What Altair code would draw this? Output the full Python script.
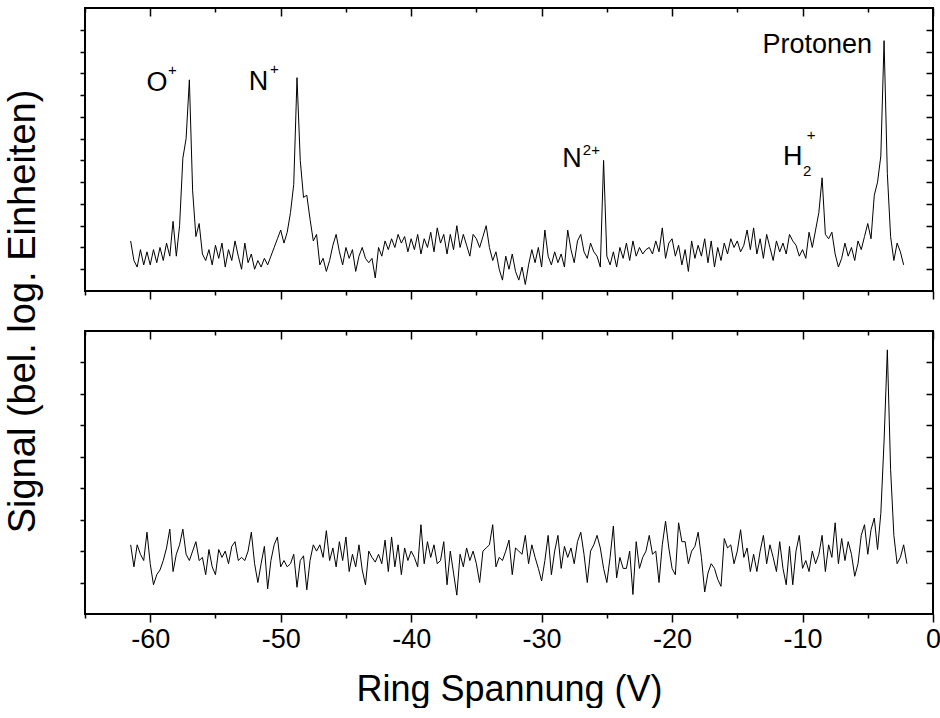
import altair as alt
import pandas as pd

FONT = "Liberation Sans"
V_START = -61.5
V_STEP = 0.25

# top panel signal (log units), sampled every 0.25 V from -61.5 V
top_signal = [
    2.3, 1.4, 1.1, 1.9, 1.2, 1.8, 1.2, 1.9, 1.3, 2.0, 1.4, 2.2, 1.6,
    3.2, 1.6, 3.0, 6.1, 7.0, 9.7, 4.6, 2.5, 3.1,
    1.7, 1.4, 1.9, 1.2, 2.1, 1.5, 2.2, 1.1, 1.9, 1.4, 2.3, 1.6, 1.0, 2.2, 1.3, 1.7,
    1.0, 1.4, 1.1, 1.5, 1.2, 1.6, 2.0, 2.4,
    2.8, 2.2, 2.7, 3.6, 4.9, 9.8, 6.0, 4.3, 4.4, 3.3, 2.3, 2.6, 1.2, 1.5, 0.9, 1.4,
    2.1, 2.6, 1.8, 1.2, 2.0, 1.5, 1.9, 0.9, 1.6, 2.0, 1.5,
    1.3, 1.5, 0.6, 2.0, 1.6, 2.3,
    1.9, 2.4, 2.0, 2.6, 2.2, 2.5, 1.8, 2.4, 1.9, 2.6, 1.7, 2.4, 2.0, 2.7, 1.8, 2.9,
    2.2, 2.6, 1.7, 2.6, 1.9, 3.0, 2.0, 2.6, 2.1, 1.6, 2.6, 2.4, 2.0, 2.5, 3.0, 2.0,
    1.4, 1.8, 1.0, 0.5, 1.6, 1.0, 1.7, 0.9, 0.5, 1.1, 0.3, 1.2,
    1.9, 1.3, 2.0, 1.1, 2.8, 1.6, 1.2, 1.8, 1.3, 1.7, 1.1,
    2.8, 1.9, 1.3, 2.3, 2.6, 1.8, 1.5, 2.2, 1.8, 1.6, 1.1,
    6.0, 1.6,
    1.2, 1.8, 1.1, 2.0, 1.5, 2.2, 1.4, 2.3, 1.6, 2.0, 1.7, 1.9,
    2.0, 1.7, 2.3, 1.8, 2.9, 1.5, 2.2, 2.4, 1.6, 2.1, 1.2, 1.9, 0.9, 2.3, 1.5, 2.1, 1.6,
    2.4, 1.3, 2.3, 1.1, 2.0, 1.4, 2.2, 1.7, 2.4, 2.0, 2.3, 1.8, 2.1, 2.8, 1.9, 2.9,
    1.7, 2.4, 1.5, 2.6, 2.0, 1.4, 2.3, 1.8, 2.2, 1.7, 2.6, 2.3, 2.1, 1.6, 1.9, 1.5,
    2.7, 2.0,
    2.8, 3.6, 5.2, 2.6, 2.4, 2.7, 1.7, 1.1,
    1.5, 2.2, 1.6, 2.0, 1.4, 2.3, 1.9, 2.5, 3.1, 2.4, 4.4, 5.0, 6.2, 11.5, 5.4, 2.5,
    1.4, 2.2, 1.8, 1.2,
]

# bottom panel signal (log units), sampled every 0.25 V from -61.5 V
bottom_signal = [
    2.2, 1.5, 2.2, 1.9, 1.7, 2.6, 1.6, 0.93, 1.25, 1.4,
    1.7, 2.1, 2.7, 1.35, 1.9, 2.2, 2.7, 1.9, 1.7, 2.0,
    2.3, 1.7, 1.8, 1.25, 2.05, 1.5, 1.25, 2.05, 1.8, 2.0,
    1.6, 2.15, 2.3, 1.7, 1.8, 1.7, 2.0, 2.6, 1.6, 1.0,
    1.6, 2.15, 0.8, 1.7, 2.2, 2.45, 1.5, 1.7, 1.5, 1.6,
    1.9, 0.85, 1.7, 1.85, 0.77, 1.7, 2.2, 2.0, 2.2, 1.8,
    2.65, 1.7, 2.1, 1.5, 2.3, 1.7, 2.45, 1.35, 1.9, 1.5,
    2.2, 1.4, 0.93, 2.0, 1.8, 1.65, 1.9, 1.6, 2.35, 1.35,
    2.45, 1.5, 2.2, 1.25, 2.1, 1.7, 2.0, 1.8, 1.5, 2.84,
    1.6, 2.3, 1.8, 2.2, 1.6, 1.7, 2.3, 0.93, 2.0, 1.3,
    0.6, 1.9, 1.5, 2.1, 1.7, 2.0, 1.6, 1.0, 2.0, 2.1,
    2.2, 2.84, 1.5, 1.8, 1.7, 2.0, 2.35, 1.25, 2.1, 2.0,
    1.9,
    2.5, 1.6, 2.2, 1.8, 1.45, 1.05, 1.7, 2.5, 1.25, 2.0,
    2.5, 1.45, 2.15, 1.8, 2.1, 1.6, 2.3, 2.6, 1.9, 1.0, 2.0,
    2.2, 2.5, 2.1, 1.45, 1.0, 1.8, 2.8, 1.15, 1.8, 1.45, 1.45,
    2.0, 0.62, 2.3, 1.45, 1.8, 2.0, 2.5, 1.9, 2.0, 1.0,
    2.2, 2.95, 2.1, 1.45, 1.25, 2.9, 2.3, 2.3, 1.6, 2.0, 2.15,
    2.6, 1.8, 0.7, 1.3, 1.6, 1.45, 1.1, 0.88, 2.4, 2.1, 2.2, 1.6,
    2.0, 2.68, 1.8, 2.1, 1.35, 1.9, 1.35, 2.0, 2.5, 1.6, 2.2,
    1.8, 1.35, 2.3, 1.45, 0.93, 2.15, 0.93, 2.0, 2.5, 1.45,
    1.7, 1.35, 2.0, 1.6, 1.9, 2.5, 1.35, 2.2, 1.8, 2.9, 1.6, 2.4,
    1.7, 2.3, 1.9, 1.2, 1.6, 2.5, 2.84, 1.9, 2.68, 3.05, 2.05,
    3.2, 5.5, 8.4, 4.6, 2.5, 1.6, 1.8, 2.2, 1.6,
]

x_major = [-60, -50, -40, -30, -20, -10, 0]
x_minor = [-65, -55, -45, -35, -25, -15, -5]
top_yticks = list(range(1, 13))
bottom_yticks = list(range(1, 9))

# peak labels (letter) and their super/subscripts
ann_main = ["O", "N", "N", "H", "Protonen"]
ann_main_v = [-59.48, -51.70, -27.68, -10.75, -8.87]
ann_main_s = [9.17, 9.22, 5.69, 5.78, 10.92]
ann_sup = ["+", "+", "2+", "+", "2"]
ann_sup_v = [-58.64, -50.82, -26.84, -9.67, -9.97]
ann_sup_s = [9.91, 9.95, 6.24, 6.93, 5.28]


def frame(signal):
    return pd.DataFrame({
        "V": [round(V_START + V_STEP * i, 2) for i in range(len(signal))],
        "S": signal,
    })


def ax(orient, values, size, offset=0, labels=False, **kw):
    return alt.Axis(orient=orient, values=values, tickSize=size, offset=offset,
                    labels=labels, domain=False, grid=False, ticks=True,
                    tickColor="black", tickWidth=1.5, **kw)


def panel(df, ydomain, yticks, bottom_labels, ytitle=False, xtitle=False, ann=False):
    xs = alt.Scale(domain=[-65, 0], nice=False, zero=False)
    ys = alt.Scale(domain=ydomain, nice=False, zero=False)
    base = alt.Chart(df)

    xb_kw = {}
    if bottom_labels:
        xb_kw.update(labelFont=FONT, labelFontSize=27, labelColor="black",
                     labelPadding=4, labelFlush=False,
                     labelExpr="'' + datum.value")
    if xtitle:
        xb_kw.update(title="Ring Spannung (V)", titleFont=FONT, titleFontSize=36,
                     titleFontWeight="normal", titleColor="black",
                     titleX=424, titleY=86, titleAlign="center",
                     titleBaseline="alphabetic")
    else:
        xb_kw.update(title=None)

    yl_kw = {}
    if ytitle:
        yl_kw.update(title="Signal (bel. log. Einheiten)", titleFont=FONT,
                     titleFontSize=38, titleFontWeight="normal", titleColor="black",
                     titleAngle=270, titleX=-62, titleY=303, titleAlign="center",
                     titleBaseline="middle")
    else:
        yl_kw.update(title=None)

    line = base.mark_line(color="black", strokeWidth=1).encode(
        x=alt.X("V:Q", scale=xs, axis=ax("bottom", x_major, 8, labels=bottom_labels, **xb_kw)),
        y=alt.Y("S:Q", scale=ys, axis=ax("left", yticks, 5, **yl_kw)),
    )
    g1 = base.mark_line(strokeOpacity=0).encode(
        x=alt.X("V:Q", scale=xs, axis=ax("bottom", x_minor, 4, title=None)),
        y=alt.Y("S:Q", scale=ys, axis=ax("right", yticks, 7, offset=-7, title=None)),
    )
    g2 = base.mark_line(strokeOpacity=0).encode(
        x=alt.X("V:Q", scale=xs, axis=ax("top", x_major, 8, offset=-8, title=None)),
        y=alt.Y("S:Q", scale=ys, axis=None),
    )
    g3 = base.mark_line(strokeOpacity=0).encode(
        x=alt.X("V:Q", scale=xs, axis=ax("top", x_minor, 4, offset=-4, title=None)),
        y=alt.Y("S:Q", scale=ys, axis=None),
    )
    layers = [line, g1, g2, g3]
    if ann:
        main_df = pd.DataFrame({"V": ann_main_v, "S": ann_main_s, "t": ann_main})
        sup_df = pd.DataFrame({"V": ann_sup_v, "S": ann_sup_s, "t": ann_sup})
        t1 = alt.Chart(main_df).mark_text(font=FONT, fontSize=27, color="black",
                                          align="center", baseline="alphabetic").encode(
            x=alt.X("V:Q", scale=xs, axis=None), y=alt.Y("S:Q", scale=ys, axis=None), text="t:N")
        t2 = alt.Chart(sup_df).mark_text(font=FONT, fontSize=15, color="black",
                                         align="left", baseline="alphabetic").encode(
            x=alt.X("V:Q", scale=xs, axis=None), y=alt.Y("S:Q", scale=ys, axis=None), text="t:N")
        layers += [t1, t2]
    return alt.layer(*layers).resolve_axis(x="independent", y="independent").properties(
        width=848, height=283)


top = panel(frame(top_signal), [0, 13], top_yticks, False, ytitle=True, ann=True)
bottom = panel(frame(bottom_signal), [0, 9], bottom_yticks, True, xtitle=True)

chart = alt.vconcat(top, bottom, spacing=40, bounds="flush").configure_view(
    stroke="black", strokeWidth=2
).properties(
    padding={"left": 2, "top": 6, "right": -2, "bottom": 0},
    autosize=alt.AutoSizeParams(type="pad"),
    background="white",
)

chart.save("out.html", embed_options={"renderer": "svg", "actions": False})
